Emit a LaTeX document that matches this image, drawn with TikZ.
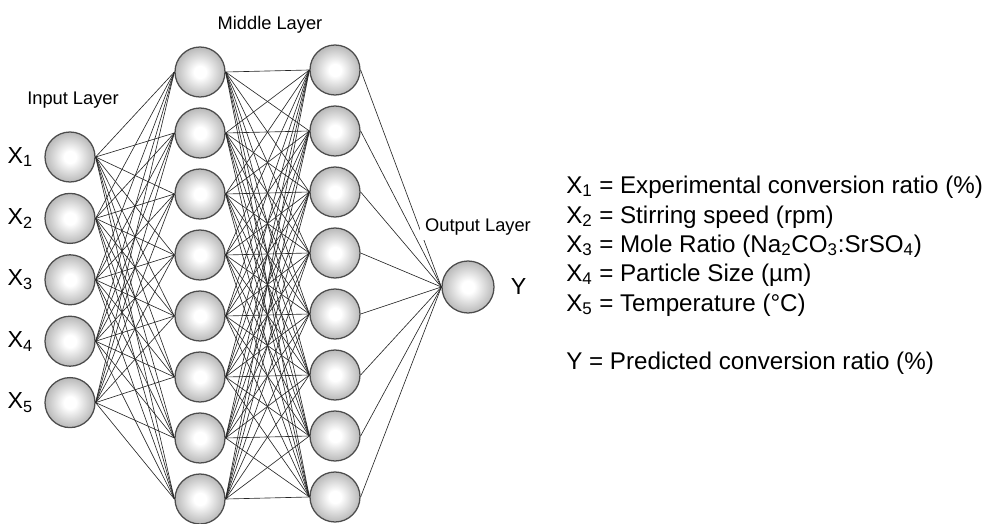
\documentclass[tikz,border=0pt]{standalone}
\usepackage{fontspec}
\setmainfont{Liberation Sans}
\usetikzlibrary{positioning}
\pgfdeclareradialshading{neuronball}{\pgfpoint{0bp}{0bp}}{color(0bp)=(white); color(6bp)=(white);
  color(24bp)=(black!26); color(40bp)=(black!44); color(50bp)=(black!64); color(70bp)=(black!64)}
\tikzset{neuron/.style = {circle, draw = black!70, line width = 0.9pt,
                          shading = neuronball, minimum size = 1.25cm, inner sep = 0}}
\tikzset{link/.style = {draw = black!85, line width = 0.45pt}}
\tikzset{layer/.style = {font = \fontsize{13}{15}\selectfont}}
\tikzset{var/.style = {font = \fontsize{16.5}{19}\selectfont, inner sep = 0}}
\tikzset{legend/.style = {font = \fontsize{17.2}{20}\selectfont, anchor = west, inner sep = 0}}

\begin{document}
\begin{tikzpicture}
  \useasboundingbox (0, 0) rectangle (24.6, 13.075);
  % neurons
  \foreach \i in {1,...,5}
    \node (in\i) at (1.75, 10.685 - 1.535*\i) [neuron] {};
  \foreach \i in {1,...,8} {
    \node (ma\i) at (5, 12.8 - 1.525*\i) [neuron] {};
    \node (mb\i) at (8.375, 12.85 - 1.525*\i) [neuron] {};
  }
  \node (out) at (11.7, 5.9) [neuron, minimum size = 1.3cm] {};
  % weights
  \foreach \i in {1,...,5}
    \foreach \j in {1,...,8}
      \draw [link] (in\i.east) -- (ma\j.west);
  \foreach \i in {1,...,8}
    \foreach \j in {1,...,8}
      \draw [link] (ma\i.east) -- (mb\j.west);
  \foreach \i in {1,...,8}
    \draw [link] (mb\i.east) -- (out.west);
  % labels
  \node (inlabel) at (1.825, 10.575) [layer] {Input Layer};
  \node (midlabel) at (6.75, 12.45) [layer] {Middle Layer};
  \node (outlabel) at (11.95, 7.4) [layer, fill = white] {Output Layer};
  \foreach \i in {1,...,5}
    \node (x\i) [var, left = 0.28cm of in\i] {X\textsubscript{\i}};
  \node (y) [var, right = 0.4cm of out] {Y};
  % legend
  \node (def1) at (14.15, 8.4) [legend] {X\textsubscript{1} = Experimental conversion ratio (\%)};
  \node (def2) at (14.15, 7.65) [legend] {X\textsubscript{2} = Stirring speed (rpm)};
  \node (def3) at (14.15, 6.925) [legend] {X\textsubscript{3} = Mole Ratio (Na\textsubscript{2}CO\textsubscript{3}:SrSO\textsubscript{4})};
  \node (def4) at (14.15, 6.2) [legend] {X\textsubscript{4} = Particle Size (µm)};
  \node (def5) at (14.15, 5.45) [legend] {X\textsubscript{5} = Temperature (°C)};
  \node (defy) at (14.15, 4.0) [legend] {Y = Predicted conversion ratio (\%)};
\end{tikzpicture}
\end{document}
